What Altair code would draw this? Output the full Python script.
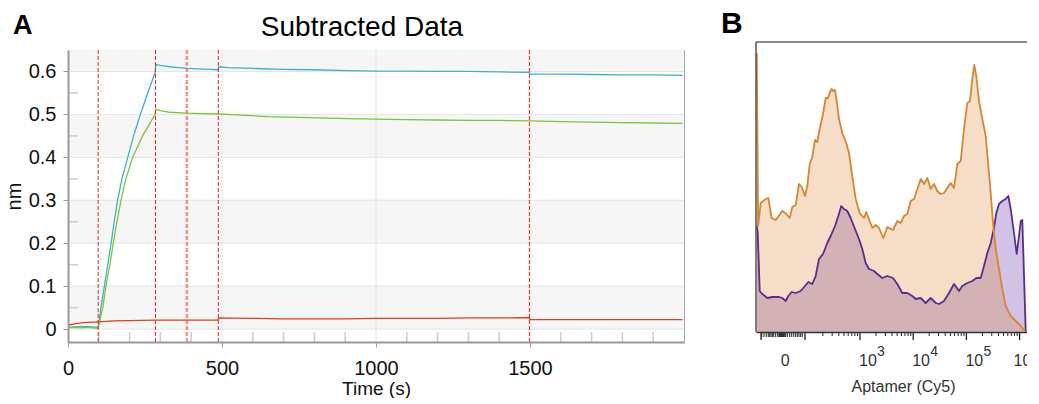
import altair as alt
import pandas as pd

FONT = "Liberation Sans"

# ---------------- Panel A : BLI sensorgram ("Subtracted Data") ----------------
blue_t = [0, 20, 40, 60, 80, 97, 98, 107, 118, 129, 140, 150, 161, 175, 194, 213, 235, 259, 283,
          285, 300, 330, 360, 386, 420, 460, 487, 490, 520, 600, 700, 800, 908, 1000, 1100, 1200,
          1300, 1400, 1497, 1500, 1600, 1700, 1800, 1900, 1995]
blue_v = [0.004, 0.005, 0.006, 0.006, 0.005, 0.004, 0.005, 0.05, 0.10, 0.15, 0.20, 0.25, 0.30, 0.35,
          0.40, 0.45, 0.50, 0.55, 0.598, 0.616, 0.614, 0.611, 0.609, 0.607, 0.606, 0.605, 0.604,
          0.611, 0.609, 0.607, 0.605, 0.604, 0.602, 0.601, 0.601, 0.600, 0.600, 0.599, 0.598,
          0.594, 0.594, 0.593, 0.592, 0.592, 0.591]

green_t = [0, 20, 40, 60, 80, 97, 98, 113, 123, 136, 147, 159, 172, 188, 210, 242, 283,
           285, 300, 330, 386, 440, 487, 550, 648, 750, 908, 1000, 1100, 1200, 1300, 1400, 1497,
           1600, 1700, 1800, 1900, 1995]
green_v = [0.003, 0.004, 0.003, 0.004, 0.003, 0.002, 0.003, 0.05, 0.10, 0.15, 0.20, 0.25, 0.30,
           0.35, 0.40, 0.45, 0.50, 0.512, 0.509, 0.505, 0.503, 0.502, 0.501, 0.499, 0.495, 0.493,
           0.490, 0.489, 0.488, 0.487, 0.486, 0.486, 0.485, 0.483, 0.482, 0.481, 0.480, 0.479]

red_t = [0, 20, 50, 97, 150, 200, 284, 350, 420, 487, 490, 600, 700, 800, 900, 1000, 1100, 1200,
         1300, 1400, 1497, 1500, 1600, 1700, 1800, 1900, 1995]
red_v = [0.009, 0.012, 0.015, 0.017, 0.019, 0.020, 0.021, 0.021, 0.021, 0.021, 0.026, 0.025, 0.024,
         0.024, 0.024, 0.025, 0.025, 0.025, 0.026, 0.026, 0.027, 0.022, 0.022, 0.022, 0.022, 0.022,
         0.022]

a_xticks = [0, 500, 1000, 1500]
a_yticks = [0, 0.1, 0.2, 0.3, 0.4, 0.5, 0.6]
a_band_lo = [0, 0.2, 0.4, 0.6]
a_band_hi = [0.1, 0.3, 0.5, 0.65]
a_step_lines = [98, 284, 488, 1498]
a_step_faint = [386]
a_minor_y = [0.05, 0.15, 0.25, 0.35, 0.45, 0.55]
a_minor_x = [100, 200, 300, 400, 600, 700, 800, 900, 1100, 1200, 1300, 1400, 1600, 1700, 1800, 1900]

# ---------------- Panel B : flow cytometry histogram ----------------
orange_p = [1.060, 1.085, 1.133, 1.227, 1.276, 1.340, 1.415, 1.539, 1.615, 1.679, 1.727, 1.791,
            1.853, 1.904, 1.966, 2.009, 2.055, 2.103, 2.154, 2.197, 2.242, 2.305, 2.355, 2.398,
            2.430, 2.468, 2.492, 2.530, 2.562, 2.605, 2.667, 2.742, 2.793, 2.855, 2.919, 2.994,
            3.075, 3.118, 3.169, 3.231, 3.295, 3.357, 3.438, 3.513, 3.620, 3.701, 3.765, 3.827,
            3.889, 3.953, 4.015, 4.077, 4.141, 4.203, 4.265, 4.329, 4.391, 4.453, 4.517, 4.579,
            4.641, 4.705, 4.767, 4.829, 4.893, 4.955, 5.017, 5.068, 5.111, 5.148, 5.186, 5.237,
            5.299, 5.363, 5.412, 5.457, 5.500, 5.551, 5.613, 5.675, 5.739, 5.833, 5.927, 6.021,
            6.115]
orange_h = [279, 106, 129, 133, 134, 114, 112, 121, 118, 114, 125, 127, 148, 145, 136, 146, 168,
            175, 192, 190, 203, 218, 234, 234, 239, 243, 241, 242, 231, 213, 199, 189, 179, 156,
            133, 119, 114, 120, 113, 104, 107, 104, 94, 105, 102, 111, 109, 116, 118, 131, 133,
            143, 153, 148, 154, 143, 148, 141, 138, 139, 144, 149, 144, 168, 171, 203, 229, 231,
            253, 267, 256, 231, 213, 196, 166, 139, 109, 83, 63, 43, 26, 16, 11, 6, 0]

purple_p = [1.060, 1.077, 1.115, 1.164, 1.258, 1.352, 1.477, 1.539, 1.603, 1.652, 1.716, 1.791,
            1.885, 1.966, 2.028, 2.103, 2.167, 2.229, 2.305, 2.385, 2.449, 2.530, 2.592, 2.648,
            2.699, 2.761, 2.825, 2.906, 2.981, 3.043, 3.107, 3.169, 3.263, 3.325, 3.419, 3.513,
            3.620, 3.701, 3.795, 3.889, 3.983, 4.047, 4.141, 4.235, 4.329, 4.423, 4.485, 4.579,
            4.673, 4.767, 4.861, 4.923, 5.017, 5.111, 5.186, 5.269, 5.331, 5.393, 5.457, 5.519,
            5.562, 5.613, 5.675, 5.739, 5.788, 5.833, 5.895, 5.945, 5.989, 6.021, 6.051, 6.083,
            6.115]
purple_h = [106, 100, 41, 38, 34, 35, 35, 34, 31, 36, 40, 39, 41, 46, 50, 48, 56, 73, 78, 89, 96,
            106, 116, 126, 123, 121, 114, 103, 93, 83, 69, 63, 61, 58, 54, 56, 54, 48, 39, 39, 36,
            33, 34, 29, 34, 29, 28, 31, 39, 48, 41, 46, 49, 51, 54, 54, 66, 79, 89, 104, 119, 128,
            131, 133, 136, 123, 99, 78, 96, 111, 112, 56, 0]

b_label_pos = [1.53, 3, 4, 5]
b_label_base = ["0", "10", "10", "10"]
b_exp_pos = [3, 4, 5]
b_exp_txt = ["3", "4", "5"]
b_last_pos = [6]
b_last_base = ["10"]
b_last_exp = ["6"]
b_major = [1.14, 1.966, 3, 4, 5, 6]
b_minor = [2.301, 2.477, 2.602, 2.699, 2.778, 2.845, 2.903, 2.954,
           3.301, 3.477, 3.602, 3.699, 3.778, 3.845, 3.903, 3.954,
           4.301, 4.477, 4.602, 4.699, 4.778, 4.845, 4.903, 4.954,
           5.301, 5.477, 5.602, 5.699, 5.778, 5.845, 5.903, 5.954]
b_dense = [1.152, 1.195, 1.239, 1.276, 1.303, 1.327, 1.352, 1.378, 1.415, 1.453, 1.477, 1.491,
           1.502, 1.515, 1.528, 1.539, 1.553, 1.566, 1.577, 1.603, 1.633, 1.679, 1.716, 1.754,
           1.791, 1.821, 1.853, 1.885, 1.915]

# =====================================================================
W_A, H_A = 616, 292
xA = alt.Scale(domain=[0, 2000], nice=False, zero=False)
yA = alt.Scale(domain=[-0.03, 0.65], nice=False, zero=False)

x_axis_A = alt.Axis(values=a_xticks, format="d", title="Time (s)", grid=False,
                    labelFontSize=20, titleFontSize=19, titleFontWeight="normal",
                    labelColor="#111111", titleColor="#111111", tickColor="#9a9a9a",
                    tickSize=5, domainColor="#9a9a9a", domainWidth=2, labelPadding=11,
                    titleX=W_A / 2, titleY=37.6, zindex=1, labelFlush=False)
y_axis_A = alt.Axis(values=a_yticks, format=".1~f", title="nm", grid=False,
                    labelFontSize=20, titleFontSize=20, titleFontWeight="normal",
                    labelColor="#111111", titleColor="#111111", tickColor="#9a9a9a",
                    tickSize=5, domainColor="#9a9a9a", domainWidth=2, labelPadding=7,
                    titlePadding=4, zindex=1, labelFlush=False)


def XA(field):
    return alt.X(field, scale=xA, axis=x_axis_A)


def YA(field):
    return alt.Y(field, scale=yA, axis=y_axis_A)


bands = alt.Chart(pd.DataFrame({"lo": a_band_lo, "hi": a_band_hi})).mark_rect(
    color="#f6f6f6").encode(
    y=YA("lo:Q"), y2="hi:Q", x=alt.value(0), x2=alt.value(W_A))

hgrid = alt.Chart(pd.DataFrame({"v": a_yticks})).mark_rule(
    color="#e4e4e4", strokeWidth=1).encode(y=YA("v:Q"))
vgrid = alt.Chart(pd.DataFrame({"t": a_xticks[1:]})).mark_rule(
    color="#e4e4e4", strokeWidth=1).encode(x=XA("t:Q"))

minor_y = alt.Chart(pd.DataFrame({"v": a_minor_y})).mark_rule(
    color="#c9c9ea", strokeWidth=1.5).encode(
    y=YA("v:Q"), x=alt.value(0), x2=alt.value(10))
minor_x = alt.Chart(pd.DataFrame({"t": a_minor_x})).mark_rule(
    color="#c9c9ea", strokeWidth=1.5).encode(
    x=XA("t:Q"), y=alt.value(H_A), y2=alt.value(H_A - 10))


def a_line(ts, vs, color):
    return alt.Chart(pd.DataFrame({"t": ts, "v": vs})).mark_line(
        color=color, strokeWidth=1.3).encode(x=XA("t:Q"), y=YA("v:Q"))


line_blue = a_line(blue_t, blue_v, "#3cb2c8")
line_green = a_line(green_t, green_v, "#7cc43e")
line_red = a_line(red_t, red_v, "#d4451b")

steps = alt.Chart(pd.DataFrame({"t": a_step_lines})).mark_rule(
    color="#ee2020", strokeWidth=1, strokeDash=[4, 2]).encode(x=XA("t:Q"))
steps_faint = alt.Chart(pd.DataFrame({"t": a_step_faint})).mark_rule(
    color="#ff6060", strokeWidth=2.5, strokeDash=[4, 2], opacity=0.7).encode(x=XA("t:Q"))

label_A = alt.Chart(pd.DataFrame({"s": ["A"]})).mark_text(
    fontSize=27, fontWeight="bold", align="left", baseline="alphabetic", color="#000000").encode(
    text="s:N", x=alt.value(-55), y=alt.value(-16))
title_A = alt.Chart(pd.DataFrame({"s": ["Subtracted Data"]})).mark_text(
    fontSize=28, align="center", baseline="alphabetic", color="#000000").encode(
    text="s:N", x=alt.value(294), y=alt.value(-14))

panel_A = alt.layer(
    bands, hgrid, vgrid, minor_y, minor_x, line_blue, line_green, line_red,
    steps, steps_faint, label_A, title_A
).properties(width=W_A, height=H_A, view=alt.ViewBackground(stroke="#a8a8a8", strokeWidth=1))

# =====================================================================
W_B, H_B = 276, 282
xB = alt.Scale(domain=[1.045, 6.233], nice=False, zero=False)
yB = alt.Scale(domain=[0, 282], nice=False)

x_axis_B = alt.Axis(values=b_major, labels=False, ticks=False, title="Aptamer (Cy5)",
                    grid=False, domainColor="#333333", domainWidth=1.5,
                    titleFontSize=16, titleFontWeight="normal", titleColor="#333333",
                    titleX=147, titleY=46.8, zindex=1)


def XB(field):
    return alt.X(field, scale=xB, axis=x_axis_B)


def YB(field):
    return alt.Y(field, scale=yB, axis=None)


df_or = pd.DataFrame({"p": orange_p, "h": orange_h})
df_pu = pd.DataFrame({"p": purple_p, "h": purple_h})

area_pu = alt.Chart(df_pu).mark_area(color="#7e54b8", opacity=0.35).encode(
    x=XB("p:Q"), y=YB("h:Q"))
area_or = alt.Chart(df_or).mark_area(color="#db7b23", opacity=0.25).encode(
    x=XB("p:Q"), y=YB("h:Q"))
line_pu = alt.Chart(df_pu).mark_line(color="#5a2d8c", strokeWidth=1.8, strokeJoin="round").encode(
    x=XB("p:Q"), y=YB("h:Q"))
line_or = alt.Chart(df_or).mark_line(color="#d9862e", strokeWidth=1.8, strokeJoin="round").encode(
    x=XB("p:Q"), y=YB("h:Q"))

frame_left = alt.Chart(pd.DataFrame({"k": [0]})).mark_rule(color="#555555", strokeWidth=1.5).encode(
    x=alt.value(0), y=alt.value(-8), y2=alt.value(H_B))
frame_top = alt.Chart(pd.DataFrame({"k": [0]})).mark_rule(color="#666666", strokeWidth=1.5).encode(
    x=alt.value(0), x2=alt.value(W_B), y=alt.value(-8))

ticks_major = alt.Chart(pd.DataFrame({"p": b_major})).mark_rule(color="#222222", strokeWidth=1.3).encode(
    x=XB("p:Q"), y=alt.value(H_B), y2=alt.value(H_B + 8))
ticks_minor = alt.Chart(pd.DataFrame({"p": b_minor})).mark_rule(color="#222222", strokeWidth=1).encode(
    x=XB("p:Q"), y=alt.value(H_B), y2=alt.value(H_B + 4))
ticks_dense = alt.Chart(pd.DataFrame({"p": b_dense})).mark_rule(color="#222222", strokeWidth=1).encode(
    x=XB("p:Q"), y=alt.value(H_B), y2=alt.value(H_B + 5))

tick_base = alt.Chart(pd.DataFrame({"p": b_label_pos, "s": b_label_base})).mark_text(
    fontSize=16, align="left", baseline="alphabetic", color="#333333", dx=-1).encode(
    x=XB("p:Q"), y=alt.value(H_B + 34), text="s:N")
tick_exp = alt.Chart(pd.DataFrame({"p": b_exp_pos, "s": b_exp_txt})).mark_text(
    fontSize=14, align="left", baseline="alphabetic", color="#333333", dx=17).encode(
    x=XB("p:Q"), y=alt.value(H_B + 24), text="s:N")
tick_last_base = alt.Chart(pd.DataFrame({"p": b_last_pos, "s": b_last_base})).mark_text(
    fontSize=16, align="left", baseline="alphabetic", color="#333333", dx=-6).encode(
    x=XB("p:Q"), y=alt.value(H_B + 34), text="s:N")
tick_last_exp = alt.Chart(pd.DataFrame({"p": b_last_pos, "s": b_last_exp})).mark_text(
    fontSize=14, align="left", baseline="alphabetic", color="#333333", dx=12).encode(
    x=XB("p:Q"), y=alt.value(H_B + 24), text="s:N")

label_B = alt.Chart(pd.DataFrame({"s": ["B"]})).mark_text(
    fontSize=30, fontWeight="bold", align="left", baseline="alphabetic", color="#000000").encode(
    text="s:N", x=alt.value(-35), y=alt.value(-17))

panel_B = alt.layer(
    area_pu, area_or, line_pu, line_or, frame_left, frame_top,
    ticks_major, ticks_minor, ticks_dense, tick_base, tick_exp,
    tick_last_base, tick_last_exp, label_B
).properties(width=W_B, height=H_B, view=alt.ViewBackground(stroke="transparent"))

chart = alt.hconcat(panel_A, panel_B, spacing=72, bounds="flush").properties(
    padding={"left": -5, "top": 0, "right": -13, "bottom": -2}
).configure(font=FONT)

chart.save("out.html", embed_options={"renderer": "svg", "actions": False})
